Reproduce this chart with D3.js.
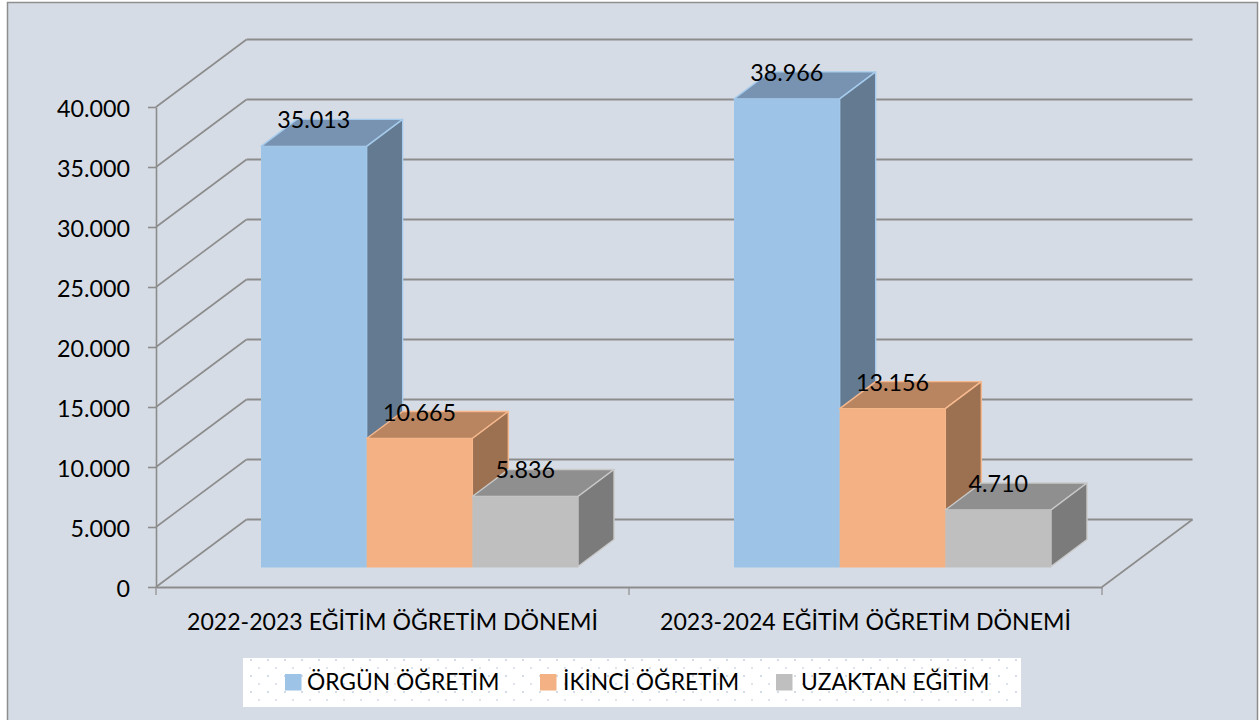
<!DOCTYPE html>
<html>
<head>
<meta charset="utf-8">
<script src="https://cdn.jsdelivr.net/npm/d3@7"></script>
<style>
    html, body { margin: 0; padding: 0; background: #fff; }
    svg { display: block; }
    text { font-family: Lato, "Open Sans", sans-serif; fill: #000; }
</style>
</head>
<body>
<div id="chart"></div>
<script>
// Data
const categories = ["2022-2023 EĞİTİM ÖĞRETİM DÖNEMİ", "2023-2024 EĞİTİM ÖĞRETİM DÖNEMİ"];
const seriesNames = ["ÖRGÜN ÖĞRETİM", "İKİNCİ ÖĞRETİM", "UZAKTAN EĞİTİM"];
const orgunValues = [35013, 38966];
const ikinciValues = [10665, 13156];
const uzaktanValues = [5836, 4710];
const yTicks = [0, 5000, 10000, 15000, 20000, 25000, 30000, 35000, 40000];

const seriesValues = [orgunValues, ikinciValues, uzaktanValues];
const frontColors = ["#9dc3e6", "#f4b183", "#bfbfbf"];
const topColors = ["#7893b1", "#b98561", "#8f8f8f"];
const sideColors = ["#647a91", "#9c7152", "#7b7b7b"];
const edgeColors = ["#a6cbec", "#f6b98e", "#c9c9c9"];

const W = 1259, H = 720;
const fmt = d3.formatLocale({ decimal: ",", thousands: ".", grouping: [3], currency: ["", ""] }).format(",d");

const svg = d3.select("#chart").append("svg").attr("width", W).attr("height", H);

// Arka plan
svg.append("rect").attr("x", 7.5).attr("y", 2.5).attr("width", 1250).attr("height", 730)
    .attr("fill", "#d6dce5").attr("stroke", "#8e8e8e").attr("stroke-width", 1.5);

// Scales
const x0 = d3.scaleBand().domain(categories).range([156, 1102]);
const x1 = d3.scaleBand().domain(seriesNames).range([0, 317]);
const y = d3.scaleLinear().domain([0, 40000]).range([587, 107]);

// Depth of the wall and of the bars
const wallDx = 90.5, wallDy = -67.5;
const barDx = 36, barDy = -27;
const barLeft = 105, barRaise = 20.5;
const gridColor = "#8c8c8c";

// Walls: slanted part is thinner than the back lines
const grid = svg.append("g").attr("fill", "none").attr("stroke", gridColor);
yTicks.forEach(d => {
    const xa = x0.range()[0], xb = x0.range()[1];
    grid.append("path")
        .attr("stroke-width", 1.6)
        .attr("d", `M${xa},${y(d)}L${xa + wallDx},${y(d) + wallDy}`);
    grid.append("path")
        .attr("stroke-width", 2.2)
        .attr("d", `M${xa + wallDx},${y(d) + wallDy}L${xb + wallDx},${y(d) + wallDy}`);
});
grid.append("path")
    .attr("stroke-width", 1.6)
    .attr("d", `M${x0.range()[1] + wallDx},${y(0) + wallDy}L${x0.range()[1]},${y(0)}`);

// Axes
const yAxis = svg.append("g")
    .attr("transform", "translate(156,0)")
    .call(d3.axisLeft(y).tickValues(yTicks).tickFormat(fmt).tickSize(8).tickSizeOuter(0).tickPadding(18));
yAxis.selectAll("path, line").attr("stroke", gridColor).attr("stroke-width", 1.6);
yAxis.selectAll("text").style("font-size", "23.3px").attr("dy", "0.42em");

const xAxis = svg.append("g")
    .attr("transform", "translate(0,587)")
    .call(d3.axisBottom(x0).tickSize(0));
xAxis.select("path").attr("stroke", gridColor).attr("stroke-width", 2.2);
xAxis.selectAll("text").style("font-size", "23.1px").attr("y", 43).attr("dy", 0);
svg.append("g")
    .selectAll("line")
    .data([x0.range()[0], x0(categories[1]), x0.range()[1]])
    .enter()
    .append("line")
    .attr("x1", d => d).attr("x2", d => d)
    .attr("y1", 587).attr("y2", 595)
    .attr("stroke", gridColor).attr("stroke-width", 1.2);

// 3D bars, left to right so that each one covers the side of the previous
const labels = [];
categories.forEach((cat, c) => {
    seriesNames.forEach((name, s) => {
        const v = seriesValues[s][c];
        const xl = x0(cat) + barLeft + x1(name);
        const xr = xl + x1.bandwidth();
        const yt = y(v) - barRaise;
        const yb = y(0) - barRaise;
        const g = svg.append("g").attr("stroke", edgeColors[s]).attr("stroke-linejoin", "round");
        g.append("path")
            .attr("fill", topColors[s]).attr("stroke-width", 1.4)
            .attr("d", `M${xl},${yt}L${xl + barDx},${yt + barDy}L${xr + barDx},${yt + barDy}L${xr},${yt}Z`);
        g.append("path")
            .attr("fill", sideColors[s]).attr("stroke-width", 1.4)
            .attr("d", `M${xr},${yt}L${xr + barDx},${yt + barDy}L${xr + barDx},${yb + barDy}L${xr},${yb}Z`);
        g.append("rect")
            .attr("x", xl).attr("y", yt)
            .attr("width", x1.bandwidth()).attr("height", yb - yt + 1)
            .attr("fill", frontColors[s]).attr("stroke", "none");
        labels.push({ x: (xl + xr) / 2, y: yt - 18, v });
    });
});

// Data labels
svg.append("g")
    .selectAll("text")
    .data(labels)
    .enter()
    .append("text")
    .attr("x", d => d.x)
    .attr("y", d => d.y)
    .attr("text-anchor", "middle")
    .style("font-size", "23.3px")
    .text(d => fmt(d.v));

// Legend
const defs = svg.append("defs");
const dots = defs.append("pattern")
    .attr("id", "dots").attr("patternUnits", "userSpaceOnUse")
    .attr("x", 243).attr("y", 658)
    .attr("width", 17).attr("height", 16);
dots.append("rect").attr("width", 17).attr("height", 16).attr("fill", "#fff");
dots.append("rect").attr("x", 7).attr("y", 1).attr("width", 2).attr("height", 2).attr("fill", "#d6dce5");
dots.append("rect").attr("x", 15).attr("y", 9).attr("width", 2).attr("height", 2).attr("fill", "#dfe4ea");

svg.append("rect").attr("x", 243).attr("y", 658).attr("width", 778).attr("height", 49).attr("fill", "url(#dots)");

const legendSwatch = [285, 540, 776];
const legendText = [307, 563, 801];
const legend = svg.append("g");
seriesNames.forEach((name, s) => {
    legend.append("rect")
        .attr("x", legendSwatch[s]).attr("y", 674)
        .attr("width", 16.5).attr("height", 16.5).attr("fill", frontColors[s]);
    legend.append("text")
        .attr("x", legendText[s]).attr("y", 690)
        .style("font-size", "22.8px")
        .text(name);
});
</script>
</body>
</html>
